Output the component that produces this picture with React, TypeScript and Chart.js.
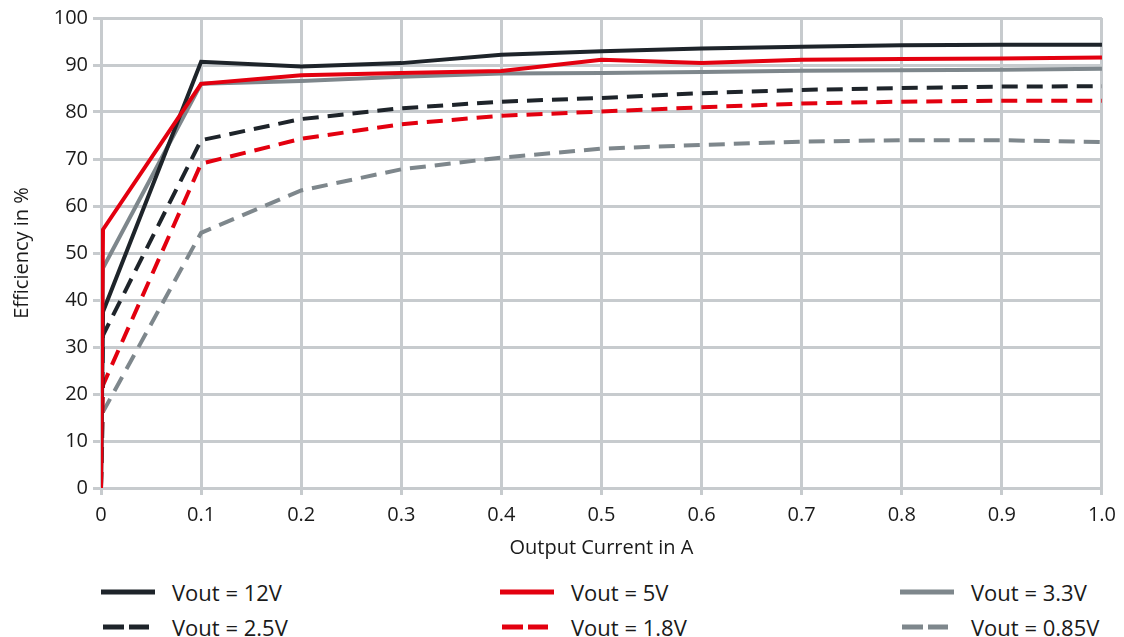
import React, { useEffect, useRef } from "react";
import { Chart, registerables } from "chart.js";

Chart.register(...registerables);

const currents = [0, 0.002, 0.1, 0.2, 0.3, 0.4, 0.5, 0.6, 0.7, 0.8, 0.9, 1.0];
const v12 = [0, 37.5, 90.7, 89.7, 90.4, 92.2, 92.9, 93.5, 93.9, 94.2, 94.3, 94.3];
const v5 = [0, 55, 86, 87.8, 88.3, 88.7, 91.1, 90.4, 91.1, 91.3, 91.4, 91.6];
const v33 = [0, 46.8, 86, 86.6, 87.5, 88.2, 88.3, 88.5, 88.8, 88.9, 89.0, 89.2];
const v25 = [0, 32.5, 74, 78.5, 80.8, 82.2, 83, 84, 84.7, 85.1, 85.4, 85.5];
const v18 = [0, 21.9, 69, 74.3, 77.4, 79.2, 80.1, 81, 81.8, 82.2, 82.4, 82.4];
const v085 = [0, 16.2, 54.3, 63.3, 67.8, 70.3, 72.2, 73, 73.7, 74, 74, 73.6];

const seriesLabels = ["Vout = 12V", "Vout = 5V", "Vout = 3.3V", "Vout = 2.5V", "Vout = 1.8V", "Vout = 0.85V"];
const xTickLabels = ["0", "0.1", "0.2", "0.3", "0.4", "0.5", "0.6", "0.7", "0.8", "0.9", "1.0"];
const xTitle = "Output Current in A";
const yTitle = "Efficiency in %";

const BLACK = "#1e242a";
const RED = "#e3000f";
const GRAY = "#7e878c";
const GRID = "#c7cbce";
const FONT = "'Open Sans', sans-serif";

const styles = [
  { color: BLACK, dash: [] as number[] },
  { color: RED, dash: [] as number[] },
  { color: GRAY, dash: [] as number[] },
  { color: BLACK, dash: [16, 9] },
  { color: RED, dash: [16, 9] },
  { color: GRAY, dash: [16, 9] },
];
const seriesValues = [v12, v5, v33, v25, v18, v085];
const drawOrder = [2, 1, 3, 4, 5, 6];

export default function App() {
  const ref = useRef<HTMLCanvasElement>(null);
  useEffect(() => {
    if (!ref.current) return;
    const chart = new Chart(ref.current, {
      type: "line",
      data: {
        datasets: seriesValues.map((vals, i) => ({
          label: seriesLabels[i],
          data: vals.map((v, j) => ({ x: currents[j], y: v })),
          borderColor: styles[i].color,
          backgroundColor: styles[i].color,
          borderDash: styles[i].dash,
          borderWidth: 4,
          pointRadius: 0,
          tension: 0,
          fill: false,
          order: drawOrder[i],
        })),
      },
      options: {
        animation: false,
        responsive: false,
        maintainAspectRatio: false,
        layout: { padding: { top: 18, right: 21, left: 0, bottom: 0 } },
        plugins: { legend: { display: false }, tooltip: { enabled: false } },
        scales: {
          x: {
            type: "linear",
            min: 0,
            max: 1,
            ticks: {
              stepSize: 0.1,
              color: "#1a1a1a",
              font: { family: FONT, size: 20 },
              padding: 8,
              maxRotation: 0,
              callback: (_v: any, i: number) => xTickLabels[i],
            },
            grid: { color: GRID, lineWidth: 3, tickLength: 7 },
            border: { color: GRID, width: 3 },
            title: {
              display: true,
              text: xTitle,
              color: "#1a1a1a",
              font: { family: FONT, size: 20 },
              padding: { top: 0, bottom: 5 },
            },
            afterFit: (s: any) => {
              s.height = 77;
            },
          },
          y: {
            min: 0,
            max: 100,
            ticks: {
              stepSize: 10,
              color: "#1a1a1a",
              font: { family: FONT, size: 20 },
              padding: 5,
            },
            grid: { color: GRID, lineWidth: 3, tickLength: 8 },
            border: { color: GRID, width: 3 },
            title: {
              display: true,
              text: yTitle,
              color: "#1a1a1a",
              font: { family: FONT, size: 20 },
              padding: { top: 10, bottom: 0 },
            },
            afterFit: (s: any) => {
              s.width = 101;
            },
          },
        },
      },
    });
    return () => chart.destroy();
  }, []);

  const legendCols = [101, 500, 900];
  return (
    <div style={{ position: "absolute", left: 0, top: 0, width: 1124, height: 637, background: "#fff" }}>
      <canvas ref={ref} width={1124} height={565} style={{ display: "block", width: 1124, height: 565 }} />
      {seriesLabels.map((lab, i) => {
        const col = i % 3;
        const row = Math.floor(i / 3);
        const st = styles[i];
        const dashed = st.dash.length > 0;
        return (
          <div
            key={lab}
            style={{
              position: "absolute",
              left: legendCols[col],
              top: 592 + row * 35 - 16,
              height: 32,
              display: "flex",
              alignItems: "center",
              fontFamily: FONT,
              fontSize: 22,
              color: "#1a1a1a",
              whiteSpace: "nowrap",
            }}
          >
            <svg width={54} height={10} style={{ marginRight: 17 }}>
              {dashed ? (
                <line x1={2} y1={5} x2={48} y2={5} stroke={st.color} strokeWidth={5} strokeDasharray="21 5" />
              ) : (
                <line x1={0} y1={5} x2={54} y2={5} stroke={st.color} strokeWidth={5} />
              )}
            </svg>
            <span>{lab}</span>
          </div>
        );
      })}
    </div>
  );
}
